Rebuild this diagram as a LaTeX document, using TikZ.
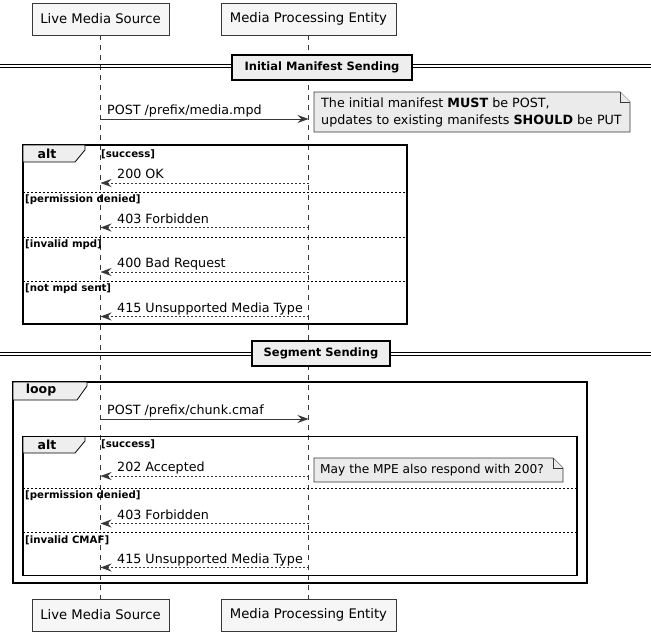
\documentclass[tikz,border=0pt]{standalone}
\usepackage{fontspec}
\setmainfont{DejaVu Sans}
\usetikzlibrary{arrows.meta}
\definecolor{linegray}{HTML}{383838}
\definecolor{boxfill}{HTML}{F6F6F6}
\definecolor{tabfill}{HTML}{EEEEEE}
\definecolor{notefill}{HTML}{EBEBEB}
\tikzset{
  part/.style={draw=linegray, line width=0.8pt, fill=boxfill, minimum height=32pt, inner sep=0pt, font=\fontsize{13.2}{15}\selectfont},
  lifeline/.style={draw=linegray, line width=0.8pt, dash pattern=on 5pt off 5pt},
  msg/.style={draw=linegray, line width=0.8pt, -{Stealth[length=11pt,width=8pt,inset=4pt]}},
  ret/.style={msg, dash pattern=on 2pt off 2pt},
  lbl/.style={anchor=base west, inner sep=0pt, font=\fontsize{12.7}{15}\selectfont},
  guard/.style={anchor=west, inner sep=0pt, font=\fontsize{10.2}{12}\selectfont\bfseries},
  frame/.style={draw=black, line width=1.9pt},
  sep/.style={draw=black, line width=0.7pt, dash pattern=on 2pt off 2pt},
  tab/.style={draw=black, line width=0.8pt, fill=tabfill},
  tabtxt/.style={inner sep=0pt, font=\fontsize{12.5}{14}\selectfont\bfseries},
  divline/.style={draw=black, line width=0.8pt},
  divbox/.style={draw=black, line width=1.5pt, fill=tabfill, minimum height=25pt, inner sep=0pt, font=\fontsize{11.5}{14}\selectfont\bfseries},
  note/.style={draw=linegray, line width=0.8pt, fill=notefill},
  notetxt/.style={anchor=west, inner sep=0pt, align=left, font=\fontsize{12.7}{17}\selectfont},
}
\begin{document}
\begin{tikzpicture}[x=1pt,y=-1pt]
\useasboundingbox (0,0) rectangle (651,640);
% participants
\node[part, minimum width=137pt] (lmsT) at (100.5,19) {Live Media Source};
\node[part, minimum width=175pt] (mpeT) at (308.5,19) {Media Processing Entity};
\node[part, minimum width=137pt] (lmsB) at (100.5,615) {Live Media Source};
\node[part, minimum width=175pt] (mpeB) at (308.5,615) {Media Processing Entity};
\draw[lifeline] (lmsT.south) -- (lmsB.north);
\draw[lifeline] (mpeT.south) -- (mpeB.north);

% divider 1
\draw[divline] (0,64.8) -- (651,64.8);
\draw[divline] (0,67.4) -- (651,67.4);
\node[divbox, minimum width=180pt] (div1) at (322,67.5) {Initial Manifest Sending};

% POST media.mpd
\coordinate (a1s) at (100.5,119);
\coordinate (a1e) at (308.5,119);
\draw[msg] (a1s) -- (a1e);
\node[lbl] (t1) at (107,114.5) {POST /prefix/media.mpd};

% note 1
\draw[note] (314,92) -- (620,92) -- (630,102) -- (630,132) -- (314,132) -- cycle;
\draw[note] (620,92) -- (620,102) -- (630,102);
\node[notetxt] (n1) at (321,112) {The initial manifest \textbf{MUST} be POST,\\updates to existing manifests \textbf{SHOULD} be PUT};

% alt frame 1
\draw[frame] (23,145) rectangle (407,324);
\draw[tab] (23,145) -- (85,145) -- (85,150) -- (75,162) -- (23,162) -- cycle;
\node[tabtxt] (alt1) at (47,153.5) {alt};
\node[guard] (g1) at (101,154) {[success]};
\coordinate (r1s) at (308.5,183);
\coordinate (r1e) at (100.5,183);
\draw[ret] (r1s) -- (r1e);
\node[lbl] (t2) at (117,178.5) {200 OK};
\draw[sep] (23,192.5) -- (407,192.5);
\node[guard] (g2) at (25,200) {[permission denied]};
\coordinate (r2s) at (308.5,227.5);
\coordinate (r2e) at (100.5,227.5);
\draw[ret] (r2s) -- (r2e);
\node[lbl] (t3) at (117,223) {403 Forbidden};
\draw[sep] (23,237) -- (407,237);
\node[guard] (g3) at (25,245) {[invalid mpd]};
\coordinate (r3s) at (308.5,272);
\coordinate (r3e) at (100.5,272);
\draw[ret] (r3s) -- (r3e);
\node[lbl] (t4) at (117,267.5) {400 Bad Request};
\draw[sep] (23,281.5) -- (407,281.5);
\node[guard] (g4) at (25,289) {[not mpd sent]};
\coordinate (r4s) at (308.5,316.5);
\coordinate (r4e) at (100.5,316.5);
\draw[ret] (r4s) -- (r4e);
\node[lbl] (t5) at (117,312) {415 Unsupported Media Type};

% divider 2
\draw[divline] (0,352.8) -- (651,352.8);
\draw[divline] (0,355.4) -- (651,355.4);
\node[divbox, minimum width=138pt] (div2) at (321,353.5) {Segment Sending};

% loop frame
\draw[frame] (13,382) rectangle (587,583);
\draw[tab] (13,382) -- (87,382) -- (87,386) -- (77,400) -- (13,400) -- cycle;
\node[tabtxt] (loop) at (41,390.5) {loop};
\coordinate (a2s) at (100.5,419);
\coordinate (a2e) at (308.5,419);
\draw[msg] (a2s) -- (a2e);
\node[lbl] (t6) at (107,414.5) {POST /prefix/chunk.cmaf};

% alt frame 2
\draw[frame] (23,436.5) rectangle (577,575.5);
\draw[tab] (23,436.5) -- (85,436.5) -- (85,441) -- (75,453) -- (23,453) -- cycle;
\node[tabtxt] (alt2) at (47,445) {alt};
\node[guard] (g5) at (101,444.5) {[success]};
\coordinate (r5s) at (308.5,476);
\coordinate (r5e) at (100.5,476);
\draw[ret] (r5s) -- (r5e);
\node[lbl] (t7) at (117,471.5) {202 Accepted};
\draw[note] (314,458) -- (553,458) -- (563,468) -- (563,482) -- (314,482) -- cycle;
\draw[note] (553,458) -- (553,468) -- (563,468);
\node[notetxt, font=\fontsize{12.2}{15}\selectfont] (n2) at (320,470.5) {May the MPE also respond with 200?};
\draw[sep] (23,488.5) -- (577,488.5);
\node[guard] (g6) at (25,496) {[permission denied]};
\coordinate (r6s) at (308.5,523.5);
\coordinate (r6e) at (100.5,523.5);
\draw[ret] (r6s) -- (r6e);
\node[lbl] (t8) at (117,519) {403 Forbidden};
\draw[sep] (23,532.5) -- (577,532.5);
\node[guard] (g7) at (25,540.5) {[invalid CMAF]};
\coordinate (r7s) at (308.5,567.5);
\coordinate (r7e) at (100.5,567.5);
\draw[ret] (r7s) -- (r7e);
\node[lbl] (t9) at (117,563) {415 Unsupported Media Type};
\end{tikzpicture}
\end{document}
